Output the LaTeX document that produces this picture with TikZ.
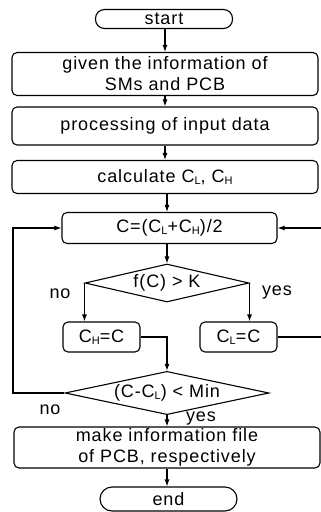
\documentclass[tikz,border=0pt]{standalone}
\usepackage{fontspec}
\setmainfont{Liberation Sans}[LetterSpace=5]
\usetikzlibrary{shapes.geometric,arrows.meta}
\newcommand{\capsub}[1]{\raisebox{-0.2ex}{\fontsize{11}{11}\selectfont #1}}

\begin{document}
\begin{tikzpicture}[x=1pt,y=-1pt,line width=1.1pt,
	every node/.style={font=\fontsize{18}{21}\selectfont},
	box/.style={draw,rounded corners=5pt,align=center,inner sep=0pt},
	term/.style={draw,rounded corners=9pt,minimum width=137pt,inner sep=0pt},
	test/.style={draw,diamond,aspect=4,inner sep=0pt},
	flow/.style={-{Latex[length=7pt,width=5pt]}}]
	
	\useasboundingbox (0,0) rectangle (321,512);
	\clip (0,0) rectangle (321,512);
	
	% Blocks
	\node[term,minimum height=19pt] (start) at (164,19) {start};
	\node[box,minimum width=306pt,minimum height=43pt] (info) at (165,74) {given the information of\\SMs and PCB};
	\node[box,minimum width=306pt,minimum height=38pt] (input) at (165,126) {processing of input data};
	\node[box,minimum width=306pt,minimum height=33pt] (calc) at (165,177) {calculate C\capsub{L}, C\capsub{H}};
	\node[box,minimum width=215pt,minimum height=31pt] (mid) at (169.5,228) {C=(C\capsub{L}+C\capsub{H})/2};
	\node[test,minimum width=164pt,minimum height=38pt] (cmp) at (167,283) {f(C) > K};
	\node[box,minimum width=77pt,minimum height=30pt] (high) at (101.5,337) {C\capsub{H}=C};
	\node[box,minimum width=77pt,minimum height=30pt] (low) at (238.5,337) {C\capsub{L}=C};
	\node[test,minimum width=204pt,minimum height=38pt] (stop) at (167,393) {(C-C\capsub{L}) < Min};
	\node[box,minimum width=306pt,minimum height=41pt] (out) at (167,447.5) {make information file\\of PCB, respectively};
	\node[term,minimum height=24pt,rounded corners=12pt] (finish) at (168.5,499) {end};
	
	% Labels
	\node (no1) at (60,294) {no};
	\node (yes1) at (277,293) {yes};
	\node (no2) at (50,410) {no};
	\node (yes2) at (201,419) {yes};
	
	% Rails
	\coordinate (leftrail) at (13,0);
	\coordinate (rightrail) at (330,0);
	
	% Flow
	\draw[flow] (start.south -| info.north) -- (info.north);
	\draw[flow] (info) -- (input);
	\draw[flow] (input) -- (calc);
	\draw[flow] (calc.south -| cmp.north) -- (cmp.north |- mid.north);
	\draw[flow] (mid.south -| cmp.north) -- (cmp.north);
	\draw[flow] (cmp.west) -- (cmp.west |- high.north);
	\draw[flow] (cmp.east) -- (cmp.east |- low.north);
	\draw[flow] (high.east) -| (stop.north);
	\draw[flow] (low.east) -- (low.east -| rightrail) |- (mid.east);
	\draw[flow] (stop.west) -- (stop.west -| leftrail) |- (mid.west);
	\draw[flow] (stop) -- (out);
	\draw[flow] (out) -- (finish.north -| out.south);
	
\end{tikzpicture}
\end{document}
